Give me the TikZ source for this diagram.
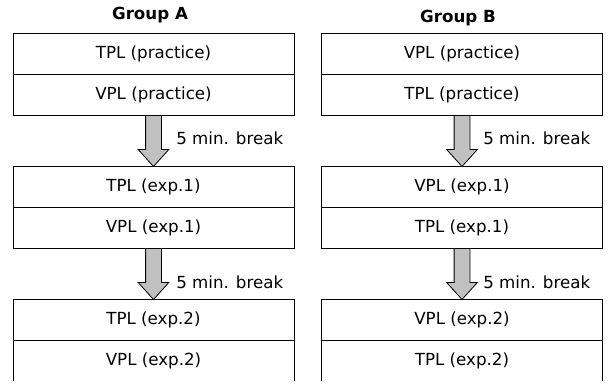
\documentclass[tikz,border=0pt]{standalone}
\usepackage{fontspec}
\setmainfont{DejaVu Sans}
\definecolor{breakGray}{HTML}{C0C0C0}
\usetikzlibrary{positioning, shapes.arrows}

\tikzset{
  cell/.style={draw, line width=0.75pt, minimum width=210.75pt, minimum height=30.75pt,
               inner sep=0pt, outer sep=0pt, font=\fontsize{12.5}{15}\selectfont},
  grouptitle/.style={inner sep=0pt, font=\fontsize{12.5}{15}\selectfont\bfseries},
  breakarrow/.style={single arrow, draw, fill=breakGray, line width=0.6pt,
                     shape border rotate=270, minimum height=38.25pt, minimum width=22.5pt,
                     single arrow head extend=5.625pt, single arrow tip angle=84,
                     inner sep=5.625pt, outer sep=0pt, anchor=tail},
  breaknote/.style={inner sep=0pt, font=\fontsize{12.5}{15}\selectfont}
}

\begin{document}
\begin{tikzpicture}[x=0.75pt, y=-0.75pt]
  \useasboundingbox (0,0) rectangle (610,383);
  \clip (0,0) rectangle (610,380.5);

  % group A
  \node[grouptitle] (ga) at (150,15) {Group A};
  \node[cell] (a1) at (153.5,54) {TPL (practice)};
  \node[cell, below=0pt of a1] (a2) {VPL (practice)};
  \node[cell, below=38.25pt of a2] (a3) {TPL (exp.1)};
  \node[cell, below=0pt of a3] (a4) {VPL (exp.1)};
  \node[cell, below=38.25pt of a4] (a5) {TPL (exp.2)};
  \node[cell, below=0pt of a5] (a6) {VPL (exp.2)};

  \node[breakarrow] (ra1) at (a2.south) {};
  \node[breakarrow] (ra2) at (a4.south) {};
  \node[breaknote, below right=16.9pt and 16.9pt of a2.south, anchor=west] (na1) {5 min. break};
  \node[breaknote, below right=25pt and 16.9pt of a4.south, anchor=west] (na2) {5 min. break};

  % group B
  \node[grouptitle] (gb) at (458,18) {Group B};
  \node[cell] (b1) at (462,54) {VPL (practice)};
  \node[cell, below=0pt of b1] (b2) {TPL (practice)};
  \node[cell, below=38.25pt of b2] (b3) {VPL (exp.1)};
  \node[cell, below=0pt of b3] (b4) {TPL (exp.1)};
  \node[cell, below=38.25pt of b4] (b5) {VPL (exp.2)};
  \node[cell, below=0pt of b5] (b6) {TPL (exp.2)};

  \node[breakarrow] (rb1) at (b2.south) {};
  \node[breakarrow] (rb2) at (b4.south) {};
  \node[breaknote, below right=16.9pt and 15.75pt of b2.south, anchor=west] (nb1) {5 min. break};
  \node[breaknote, below right=25pt and 15.75pt of b4.south, anchor=west] (nb2) {5 min. break};
\end{tikzpicture}
\end{document}
